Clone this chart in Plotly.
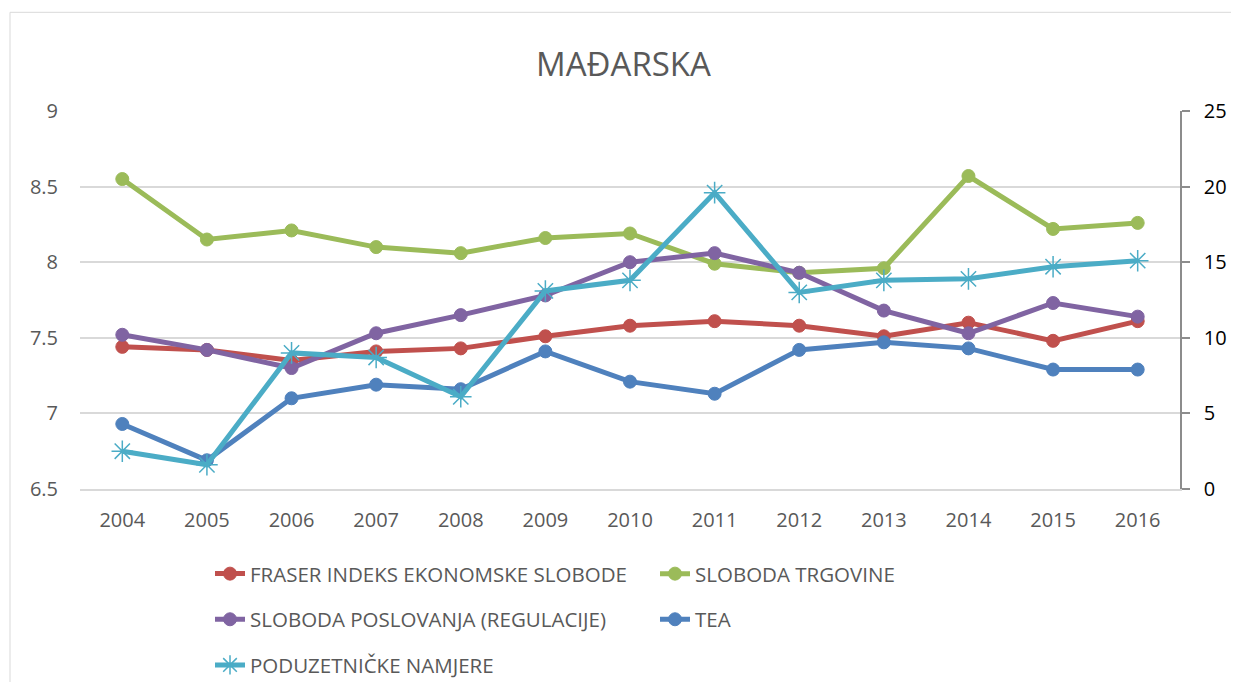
import plotly.graph_objects as go

years = ["2004", "2005", "2006", "2007", "2008", "2009", "2010",
         "2011", "2012", "2013", "2014", "2015", "2016"]

fraser = [7.44, 7.42, 7.35, 7.41, 7.43, 7.51, 7.58, 7.61, 7.58, 7.51, 7.60, 7.48, 7.61]
sloboda_trgovine = [8.55, 8.15, 8.21, 8.10, 8.06, 8.16, 8.19, 7.99, 7.93, 7.96, 8.57, 8.22, 8.26]
sloboda_poslovanja = [7.52, 7.42, 7.30, 7.53, 7.65, 7.78, 8.00, 8.06, 7.93, 7.68, 7.53, 7.73, 7.64]
tea = [4.3, 1.9, 6.0, 6.9, 6.6, 9.1, 7.1, 6.3, 9.2, 9.7, 9.3, 7.9, 7.9]
poduzetnicke_namjere = [2.5, 1.6, 9.0, 8.7, 6.1, 13.1, 13.8, 19.6, 13.0, 13.8, 13.9, 14.7, 15.1]

left_ticks = [6.5, 7, 7.5, 8, 8.5, 9]
right_ticks = [0, 5, 10, 15, 20, 25]

FONT = "Open Sans"
GRAY_TXT = "#595959"

# page is offset by the default 8px body margin; keep figure inside viewport
W, H = 1223, 674
L, R_EDGE = 72, 1172
T, B_EDGE = 102.7, 480.7
PW, PH = R_EDGE - L, B_EDGE - T

fig = go.Figure()

def circ_trace(name, y, color, axis):
    return go.Scatter(
        x=years, y=y, name=name, mode="lines+markers", yaxis=axis,
        legendgroup=name,
        line=dict(color=color, width=5),
        marker=dict(symbol="circle", size=13, color=color,
                    line=dict(color=color, width=1)),
    )

fig.add_trace(circ_trace("FRASER INDEKS EKONOMSKE SLOBODE", fraser, "#C0504D", "y"))
fig.add_trace(circ_trace("SLOBODA TRGOVINE", sloboda_trgovine, "#9BBB59", "y"))
fig.add_trace(circ_trace("SLOBODA POSLOVANJA (REGULACIJE)", sloboda_poslovanja, "#8064A2", "y"))
fig.add_trace(circ_trace("TEA", tea, "#4F81BD", "y2"))
fig.add_trace(go.Scatter(
    x=years, y=poduzetnicke_namjere, name="PODUZETNIČKE NAMJERE",
    mode="lines+markers", yaxis="y2", legendgroup="PODUZETNIČKE NAMJERE",
    line=dict(color="#4BACC6", width=5),
    marker=dict(symbol="asterisk-open", size=18, color="#4BACC6",
                line=dict(color="#4BACC6", width=1.5)),
))

# chart border: only top and left edges are visible in the frame
bx0 = (2 - L) / PW
by1 = (B_EDGE - 4) / PH
fig.add_shape(type="line", xref="paper", yref="paper",
              x0=bx0, x1=(W + 40 - L) / PW, y0=by1, y1=by1,
              line=dict(color="#D9D9D9", width=1), layer="below")
fig.add_shape(type="line", xref="paper", yref="paper",
              x0=bx0, x1=bx0, y0=(B_EDGE - (H + 40)) / PH, y1=by1,
              line=dict(color="#D9D9D9", width=1), layer="below")

fig.update_layout(
    width=W, height=H,
    margin=dict(l=L, r=W - R_EDGE, t=T, b=H - B_EDGE, autoexpand=False),
    paper_bgcolor="white", plot_bgcolor="white",
    font=dict(family=FONT, color=GRAY_TXT, size=20),
    title=dict(text="MAĐARSKA", x=615.5 / W, xref="container", xanchor="center",
               y=1 - 56 / H, yref="container", yanchor="middle",
               font=dict(family=FONT, size=33, color=GRAY_TXT)),
    xaxis=dict(type="category", range=[-0.5, 12.5], showgrid=False,
               showline=True, linecolor="#D9D9D9", linewidth=1.5,
               ticks="", tickfont=dict(size=20, color=GRAY_TXT),
               ticklabelstandoff=12, zeroline=False, fixedrange=True),
    yaxis=dict(range=[6.5, 9], tickvals=left_ticks, showgrid=True,
               gridcolor="#D9D9D9", gridwidth=1.5, zeroline=False,
               showline=False, ticks="", ticklabelstandoff=21,
               tickfont=dict(size=20, color=GRAY_TXT)),
    yaxis2=dict(range=[0, 25], tickvals=right_ticks, overlaying="y", side="right",
                showgrid=False, zeroline=False, showline=True,
                linecolor="#8C8C8C", linewidth=1.5, ticks="outside", ticklen=8,
                tickcolor="#8C8C8C", tickwidth=1.5, ticklabelstandoff=10,
                tickfont=dict(size=20, color="#000000")),
    legend=dict(orientation="h", x=(202 - L) / PW, xanchor="left",
                y=(B_EDGE - 545.5) / PH, yanchor="top",
                traceorder="grouped", tracegroupgap=16,
                entrywidth=400, entrywidthmode="pixels",
                font=dict(family=FONT, size=20.5, color=GRAY_TXT),
                bgcolor="rgba(0,0,0,0)"),
    showlegend=True,
)

fig.write_html("out.html")
